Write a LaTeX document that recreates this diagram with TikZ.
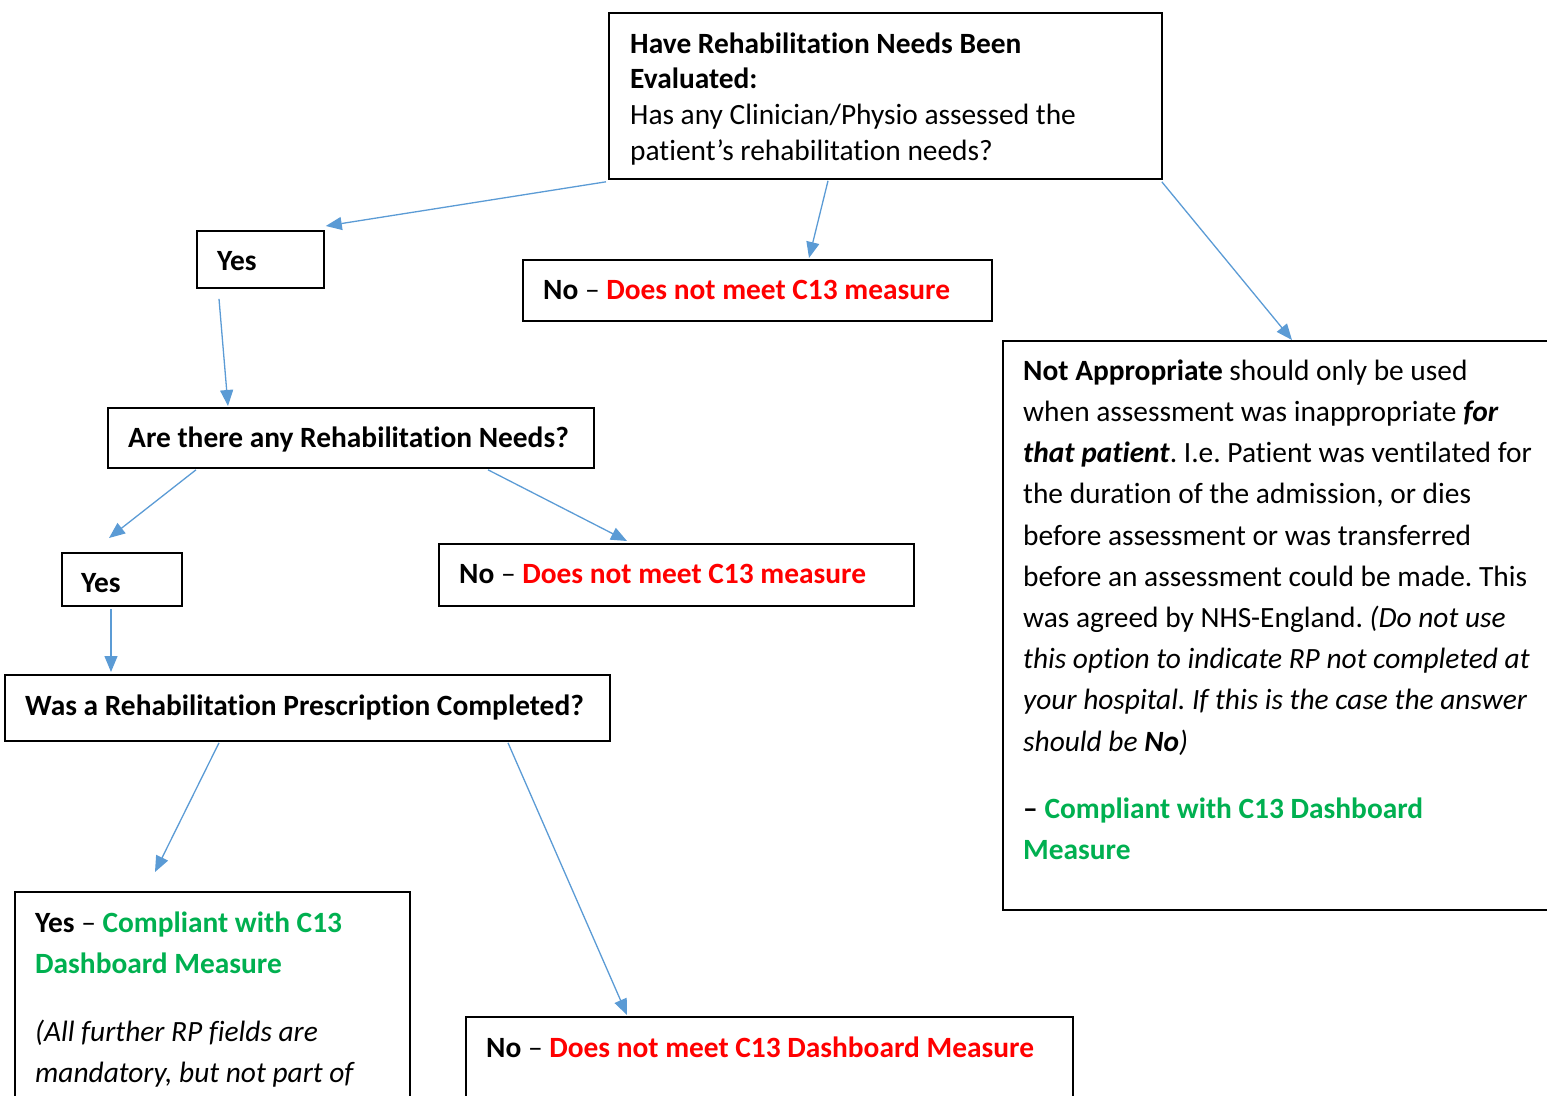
\documentclass[tikz,border=0pt]{standalone}
\usepackage{fontspec}
\setmainfont[Ligatures={NoCommon}]{Carlito}
\usetikzlibrary{arrows.meta,calc}
\definecolor{arrblue}{HTML}{5B9BD5}
\definecolor{myred}{HTML}{FF0000}
\definecolor{mygreen}{HTML}{00B050}
\frenchspacing
\tikzset{
  box/.style={draw=black, line width=1.8pt, inner sep=0pt, anchor=north west},
  txt/.style={inner sep=0pt, anchor=north west, align=left},
  tight/.style={font={\fontsize{29.4}{35.7}\selectfont\frenchspacing}},
  loose/.style={font={\fontsize{29.4}{41.2}\selectfont\frenchspacing}},
  arr/.style={draw=arrblue, line width=1.3pt, -{Triangle[length=16pt,width=13pt]}}
}
\newcommand{\fail}[1]{\textcolor{myred}{\textbf{#1}}}
\newcommand{\pass}[1]{\textcolor{mygreen}{\textbf{#1}}}
\begin{document}
\begin{tikzpicture}[x=1pt,y=-1pt]
\useasboundingbox (0,0) rectangle (1547,1095);
\clip (0,0) rectangle (1547,1095);
% boxes
\node[box, minimum width=553pt, minimum height=166pt] (top)  at (608,12)  {};
\node[box, minimum width=127pt, minimum height=57pt]  (yes1) at (196,230) {};
\node[box, minimum width=469pt, minimum height=61pt]  (no1)  at (522,259) {};
\node[box, minimum width=558pt, minimum height=569pt] (na)   at (1002,340) {};
\node[box, minimum width=486pt, minimum height=60pt]  (are)  at (107,407) {};
\node[box, minimum width=120pt, minimum height=53pt]  (yes2) at (61,552)  {};
\node[box, minimum width=475pt, minimum height=62pt]  (no2)  at (438,543) {};
\node[box, minimum width=605pt, minimum height=66pt]  (was)  at (4,674)   {};
\node[box, minimum width=395pt, minimum height=230pt] (yesc) at (14,891)  {};
\node[box, minimum width=607pt, minimum height=110pt] (nod)  at (465,1016) {};
% texts
\node[txt, tight] (ttop) at (630,{53-25}) {\strut\textbf{Have Rehabilitation Needs Been}\\\textbf{Evaluated:}\\Has any Clinician/Physio assessed the\\patient’s rehabilitation needs?};
\node[txt, tight, anchor=base west] (tyes1) at (217,270) {\textbf{Yes}};
\node[txt, tight, anchor=base west] (tno1) at (543,299) {\textbf{No} – \fail{Does not meet C13 measure}};
\node[txt, loose] (tna) at (1023,{380-28.84}) {\strut\textbf{Not Appropriate} should only be used\\when assessment was inappropriate \textbf{\textit{for}}\\\textbf{\textit{that patient}}. I.e. Patient was ventilated for\\the duration of the admission, or dies\\before assessment or was transferred\\before an assessment could be made. This\\was agreed by NHS-England. \textit{(Do not use}\\\textit{this option to indicate RP not completed at}\\\textit{your hospital. If this is the case the answer}\\\textit{should be \textbf{No})}};
\node[txt, loose] (tna2) at (1023,{818-28.84}) {\strut\textbf{–} \pass{Compliant with C13 Dashboard}\\\pass{Measure}};
\node[txt, tight, anchor=base west] (tare) at (128,447) {\textbf{Are there any Rehabilitation Needs?}};
\node[txt, tight, anchor=base west] (tyes2) at (81,592) {\textbf{Yes}};
\node[txt, tight, anchor=base west] (tno2) at (459,583) {\textbf{No} – \fail{Does not meet C13 measure}};
\node[txt, tight, anchor=base west] (twas) at (25,715) {\textbf{Was a Rehabilitation Prescription Completed?}};
\node[txt, loose] (tyesc) at (35,{932-28.84}) {\strut\textbf{Yes} – \pass{Compliant with C13}\\\pass{Dashboard Measure}};
\node[txt, loose] (tyesc2) at (35,{1041-28.84}) {\strut\textit{(All further RP fields are}\\\textit{mandatory, but not part of}};
\node[txt, tight, anchor=base west] (tnod) at (486,1057) {\textbf{No} – \fail{Does not meet C13 Dashboard Measure}};
% arrows
\draw[arr] ($(top.south west)+(-2,2)$) -- ($(yes1.north east)+(1,-4)$);
\draw[arr] ($(top.south west)+(220,1)$) -- ($(no1.north west)+(287,-1)$);
\draw[arr] ($(top.south east)+(-1,2)$) -- ($(na.north west)+(290,0)$);
\draw[arr] ($(yes1.south west)+(23,10)$) -- ($(are.north west)+(121,-1)$);
\draw[arr] ($(are.south west)+(89,1)$) -- ($(yes2.north west)+(48,-14)$);
\draw[arr] ($(are.south west)+(381,1)$) -- ($(no2.north west)+(189,-2)$);
\draw[arr] ($(yes2.south west)+(50,2)$) -- ($(was.north west)+(107,-2)$);
\draw[arr] ($(was.south west)+(215,1)$) -- ($(yesc.north west)+(141,-19)$);
\draw[arr] ($(was.south west)+(504,1)$) -- ($(nod.north west)+(162,-1)$);
\end{tikzpicture}
\end{document}
